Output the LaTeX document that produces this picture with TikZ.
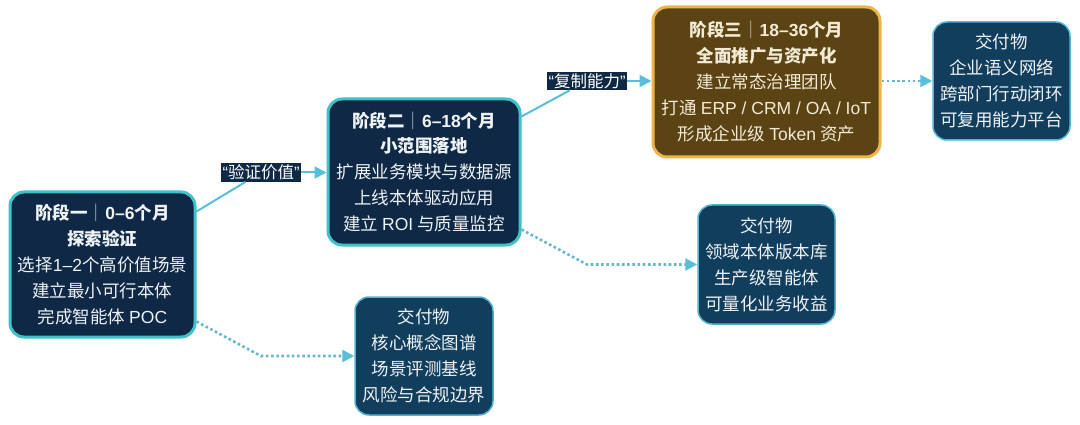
\documentclass[tikz,border=0pt]{standalone}
\usepackage{fontspec}
\setmainfont{Noto Sans CJK SC}
\newfontfamily\latf{Liberation Sans}
\newcommand{\lat}[1]{{\latf #1}}
\usetikzlibrary{arrows.meta,calc}
\definecolor{navy}{HTML}{0E2846}
\definecolor{tealb}{HTML}{3EC1C9}
\definecolor{arrowc}{HTML}{58BFDA}
\definecolor{brownf}{HTML}{5B4314}
\definecolor{goldb}{HTML}{EDB547}
\definecolor{delf}{HTML}{123E5D}
\definecolor{delb}{HTML}{52B5CF}
\definecolor{dotc}{HTML}{68B6CC}
\definecolor{txtw}{HTML}{EEF2F5}
\definecolor{txtc}{HTML}{F3EAD5}
\definecolor{sepg}{HTML}{B8C2CC}
\newcommand{\sepbar}{{\mdseries\color{sepg}｜}}
\tikzset{
  basebox/.style={rounded corners=14pt, inner sep=0pt, align=center,
    font=\fontsize{17.5}{26}\selectfont},
  phasebox/.style={basebox, draw=tealb, fill=navy, line width=3pt, text=txtw},
  goldbox/.style={basebox, draw=goldb, fill=brownf, line width=3pt, text=txtc},
  delbox/.style={basebox, draw=delb, fill=delf, line width=1.5pt, text=txtw},
  edgelabel/.style={fill=navy, text=white, inner sep=1.5pt,
    font=\fontsize{16.5}{18}\selectfont},
  solidedge/.style={draw=arrowc, line width=2pt},
  arrowedge/.style={solidedge, -{Triangle[length=12pt,width=12pt]}},
  dotedge/.style={draw=dotc, line width=2.6pt, dash pattern=on 2.6pt off 2.6pt,
    -{Triangle[length=12pt,width=12pt,color=arrowc]}},
}
\begin{document}
\begin{tikzpicture}[x=1pt,y=-1pt]
\useasboundingbox[fill=white] (0,0) rectangle (1080,425);

\node[phasebox, minimum width=185pt, minimum height=145pt] (p1) at (102.5,264.5)
  {\bfseries 阶段一\sepbar \lat{0–6}个月\\\bfseries 探索验证\\选择\lat{1–2}个高价值场景\\建立最小可行本体\\完成智能体 \lat{POC}};
\node[phasebox, minimum width=192pt, minimum height=146pt] (p2) at (424,172)
  {\bfseries 阶段二\sepbar \lat{6–18}个月\\\bfseries 小范围落地\\扩展业务模块与数据源\\上线本体驱动应用\\建立 \lat{ROI} 与质量监控};
\node[goldbox, minimum width=227pt, minimum height=150pt] (p3) at (766.5,82)
  {\bfseries 阶段三\sepbar \lat{18–36}个月\\\bfseries 全面推广与资产化\\建立常态治理团队\\打通 \lat{ERP / CRM / OA / IoT}\\形成企业级 \lat{Token} 资产};

\node[delbox, minimum width=138pt, minimum height=118pt] (d1) at (424,356)
  {交付物\\核心概念图谱\\场景评测基线\\风险与合规边界};
\node[delbox, minimum width=137pt, minimum height=119pt] (d2) at (766.5,264.5)
  {交付物\\领域本体版本库\\生产级智能体\\可量化业务收益};
\node[delbox, minimum width=137pt, minimum height=118pt] (d3) at (1001.5,81)
  {交付物\\企业语义网络\\跨部门行动闭环\\可复用能力平台};

\node[edgelabel] (l1) at (261,172.5) {\lat{“}验证价值\lat{”}};
\node[edgelabel] (l2) at (587,81) {\lat{“}复制能力\lat{”}};

\draw[solidedge] ([yshift=-21pt]p1.north east) -- (l1);
\draw[arrowedge] (l1.east) -- (p2.west |- l1.east);
\draw[solidedge] ([yshift=-19pt]p2.north east) -- (l2);
\draw[arrowedge] (l2.east) -- (p3.west |- l2.east);

\draw[dotedge] ([yshift=17pt]p1.south east) -- (d1.west -| l1) -- (d1.west);
\draw[dotedge] ([yshift=17pt]p2.south east) -- (d2.west -| l2) -- (d2.west);
\draw[dotedge] (p3.east |- d3.west) -- (d3.west);
\end{tikzpicture}
\end{document}
